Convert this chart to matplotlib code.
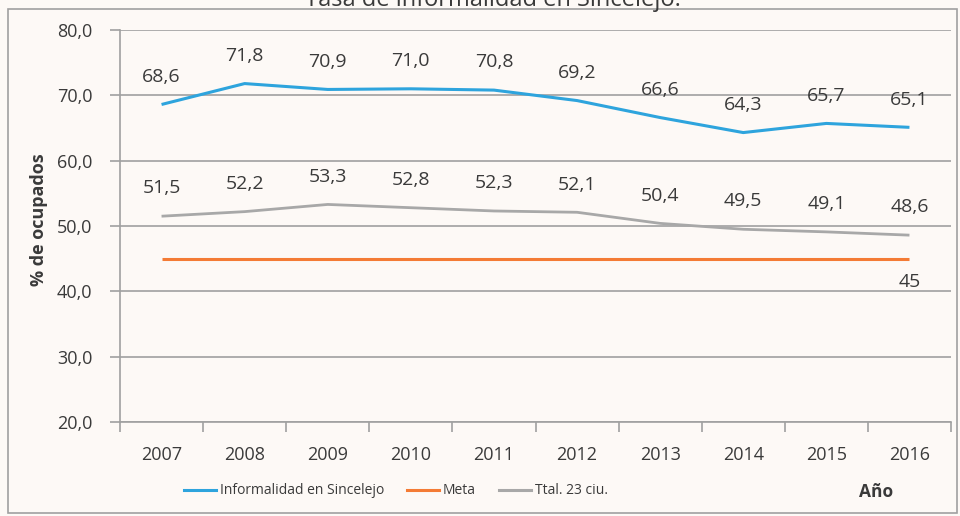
import matplotlib
matplotlib.use("Agg")
import matplotlib.pyplot as plt
from matplotlib.lines import Line2D
from matplotlib.patches import Rectangle

years = ["2007", "2008", "2009", "2010", "2011", "2012", "2013", "2014", "2015", "2016"]
informalidad = [68.6, 71.8, 70.9, 71.0, 70.8, 69.2, 66.6, 64.3, 65.7, 65.1]
total23 = [51.5, 52.2, 53.3, 52.8, 52.3, 52.1, 50.4, 49.5, 49.1, 48.6]
meta = [45, 45, 45, 45, 45, 45, 45, 45, 45, 45]
yticks = [20, 30, 40, 50, 60, 70, 80]

BG = "#FDF9F6"
BLUE = "#2EA4DD"
ORANGE = "#F47B35"
GRAY = "#A8A8A8"
AXC = "#A0A0A0"
TXT = "#3A3A3A"

plt.rcParams["font.family"] = ["Open Sans", "DejaVu Sans"]

fig = plt.figure(figsize=(9.6, 5.16), dpi=100, facecolor=BG)
ax = fig.add_axes([120 / 960, 1 - 422 / 516, (951 - 120) / 960, (422 - 30) / 516])
ax.set_facecolor(BG)

x = list(range(len(years)))
ax.plot(x, informalidad, color=BLUE, lw=2.2, solid_capstyle="butt", zorder=3)
ax.plot(x, meta, color=ORANGE, lw=2.2, solid_capstyle="butt", zorder=3)
ax.plot(x, total23, color=GRAY, lw=2.0, solid_capstyle="butt", zorder=3)

fmt = lambda v: f"{v:.1f}".replace(".", ",")
for xi, v in zip(x, informalidad):
    ax.annotate(fmt(v), (xi, v), xytext=(0, 20), textcoords="offset points",
                ha="center", va="center", fontsize=14, color=TXT)
for xi, v in zip(x, total23):
    ax.annotate(fmt(v), (xi, v), xytext=(0, 20), textcoords="offset points",
                ha="center", va="center", fontsize=14, color=TXT)
ax.annotate(f"{meta[-1]}", (x[-1], meta[-1]), xytext=(0, -17), textcoords="offset points",
            ha="center", va="center", fontsize=14, color=TXT)

ax.set_xlim(-0.5, len(years) - 0.5)
ax.set_ylim(20, 80)
ax.set_yticks(yticks)
ax.set_yticklabels([fmt(v) for v in yticks], fontsize=13, color=TXT)
ax.set_xticks(x)
ax.set_xticklabels(years, fontsize=13, color=TXT)
ax.set_xticks([i - 0.5 for i in range(len(years) + 1)], minor=True)
ax.tick_params(axis="x", which="major", length=0, pad=17)
ax.tick_params(axis="x", which="minor", length=7, color=AXC, width=1.2)
ax.tick_params(axis="y", length=7, color=AXC, width=1.2, pad=13)
ax.grid(axis="y", color=AXC, lw=1.2, zorder=0)
for s in ["top", "right"]:
    ax.spines[s].set_visible(False)
for s in ["left", "bottom"]:
    ax.spines[s].set_color(AXC)
    ax.spines[s].set_linewidth(1.2)

ax.set_ylabel("% de ocupados", fontsize=13, fontweight="bold", color=TXT)
ax.yaxis.set_label_coords((48 - 120) / 831, (422 - 220) / 392)

handles = [Line2D([], [], color=BLUE, lw=2.2),
           Line2D([], [], color=ORANGE, lw=2.2),
           Line2D([], [], color=GRAY, lw=2.2)]
fig.legend(handles, ["Informalidad en Sincelejo", "Meta", "Ttal. 23 ciu."],
           loc="center", bbox_to_anchor=(396 / 960, 1 - 491 / 516), ncol=3,
           frameon=False, fontsize=10, handlelength=2.3, handletextpad=0.25,
           columnspacing=1.7, labelcolor=TXT)
fig.text(876 / 960, 1 - 492 / 516, "Año", ha="center", va="center",
         fontsize=12.5, fontweight="bold", color=TXT)

fig.text(493 / 960, 1 - 6 / 516, "Tasa de informalidad en Sincelejo.", ha="center",
         va="baseline", fontsize=17, color=TXT)
fig.patches.append(Rectangle((8 / 960, 3 / 516), (957 - 8) / 960, (516 - 9 - 3) / 516,
                             transform=fig.transFigure, fill=False, edgecolor=AXC, lw=1.2))

fig.savefig("out.png", dpi=100, facecolor=BG)
